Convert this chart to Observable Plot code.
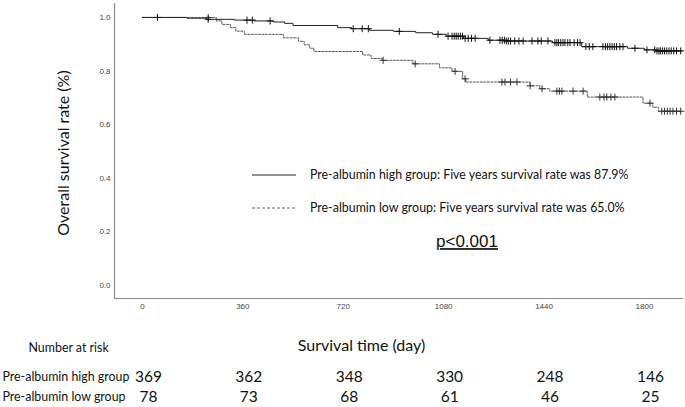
<!DOCTYPE html>
<html>
<head>
<meta charset="utf-8">
<script src="https://cdn.jsdelivr.net/npm/d3@7"></script>
<script src="https://cdn.jsdelivr.net/npm/@observablehq/plot@0.6"></script>
<style>
  html, body { margin: 0; padding: 0; background: white; }
  #wrap { position: relative; width: 685px; height: 407px; background: white; overflow: hidden; }
  #wrap > svg { display: block; }
  #overlay { position: absolute; left: 0; top: 0; }
</style>
</head>
<body>
<div id="wrap"></div>
<script>
// Kaplan–Meier step data (time in days, survival proportion)
const highTimes = [0, 160, 230, 330, 400, 470, 510, 540, 700, 750, 815, 900, 980, 1040, 1090, 1150, 1240, 1300, 1470, 1575, 1740, 1800, 1840, 1934];
const highSurv  = [1.000, 0.997, 0.993, 0.990, 0.987, 0.983, 0.978, 0.970, 0.962, 0.958, 0.952, 0.948, 0.943, 0.937, 0.930, 0.922, 0.915, 0.912, 0.906, 0.891, 0.885, 0.879, 0.875, 0.875];

const lowTimes = [0, 265, 285, 315, 335, 365, 505, 560, 580, 600, 615, 790, 820, 860, 970, 1065, 1110, 1148, 1160, 1390, 1425, 1460, 1595, 1795, 1830, 1850, 1934];
const lowSurv  = [1.000, 0.987, 0.974, 0.962, 0.949, 0.937, 0.924, 0.911, 0.898, 0.885, 0.873, 0.860, 0.847, 0.840, 0.827, 0.812, 0.799, 0.771, 0.759, 0.745, 0.734, 0.725, 0.703, 0.680, 0.665, 0.650, 0.650];

// Censoring times ("+" marks)
const highCensor = [54, 236, 375, 394, 458, 756, 788, 810, 921, 1060, 1096, 1110, 1118, 1125, 1132, 1140, 1148, 1157, 1168, 1180, 1193, 1246, 1282, 1290, 1298, 1305, 1312, 1320, 1335, 1350, 1365, 1397, 1418, 1430, 1454, 1479, 1486, 1492, 1500, 1508, 1515, 1525, 1533, 1548, 1560, 1569, 1590, 1602, 1615, 1651, 1660, 1668, 1676, 1684, 1692, 1700, 1712, 1723, 1766, 1809, 1837, 1845, 1852, 1858, 1865, 1872, 1880, 1888, 1896, 1905, 1915, 1930];
const lowCensor = [236, 863, 978, 1121, 1157, 1289, 1300, 1320, 1343, 1390, 1433, 1486, 1495, 1504, 1544, 1580, 1640, 1655, 1665, 1680, 1694, 1820, 1862, 1872, 1882, 1892, 1902, 1915, 1930];

// Number at risk
const riskTimes = [0, 360, 720, 1080, 1440, 1800];
const groups = ["Pre-albumin high group", "Pre-albumin low group"];
const highRisk = [369, 362, 348, 330, 248, 146];
const lowRisk = [78, 73, 68, 61, 46, 25];

const xTicks = [0, 360, 720, 1080, 1440, 1800];
const yTicks = [0, 0.2, 0.4, 0.6, 0.8, 1.0];

// tables
const toCurve = (ts, ss) => ts.map((t, i) => ({t, s: ss[i]}));
const highCurve = toCurve(highTimes, highSurv);
const lowCurve = toCurve(lowTimes, lowSurv);
function survAt(curve, t) {
  let s = curve[0].s;
  for (const d of curve) { if (d.t <= t) s = d.s; else break; }
  return s;
}
const highCens = highCensor.map(t => ({t, s: survAt(highCurve, t)}));
const lowCens = lowCensor.map(t => ({t, s: survAt(lowCurve, t)}));
const riskRows = [
  ...riskTimes.map((t, i) => ({t, group: groups[0], n: highRisk[i]})),
  ...riskTimes.map((t, i) => ({t, group: groups[1], n: lowRisk[i]}))
];

const xDomain = [-100, 1940];
const yDomain = [-0.0485, 1.052];
const sans = "Lato, 'Noto Sans', sans-serif";
const arial = "'Liberation Sans', Arial, sans-serif";

const main = Plot.plot({
  width: 685, height: 320,
  marginTop: 3, marginBottom: 22, marginLeft: 114, marginRight: 2,
  x: {domain: xDomain},
  y: {domain: yDomain},
  style: {fontFamily: arial, background: "white", overflow: "visible"},
  marks: [
    Plot.ruleX([xDomain[0]], {stroke: "#8a8a8a", strokeWidth: 1.2}),
    Plot.ruleY([yDomain[0]], {stroke: "#8a8a8a", strokeWidth: 1.2}),
    Plot.axisX({ticks: xTicks, tickFormat: d3.format("d"), tickSize: 0, tickPadding: 5, fontSize: 8, fontFamily: arial, fill: "#444", label: null}),
    Plot.axisY({ticks: yTicks, tickFormat: d3.format(".1f"), tickSize: 0, tickPadding: 4, fontSize: 8, fontFamily: arial, fill: "#444", label: null}),
    Plot.line(lowCurve, {x: "t", y: "s", curve: "step-after", stroke: "#555", strokeWidth: 1, strokeDasharray: "2,1.5"}),
    Plot.line(highCurve, {x: "t", y: "s", curve: "step-after", stroke: "#222", strokeWidth: 1}),
    Plot.dot(lowCens, {x: "t", y: "s", symbol: "plus", r: 2.4, stroke: "#333", strokeWidth: 1}),
    Plot.dot(highCens, {x: "t", y: "s", symbol: "plus", r: 2.4, stroke: "#111", strokeWidth: 1}),
    Plot.text(["Overall survival rate (%)"], {frameAnchor: "left", rotate: -90, textAnchor: "middle", lineAnchor: "middle", dx: -51, dy: 2, fontSize: 16, fontFamily: sans, fill: "#111"})
  ]
});

const risk = Plot.plot({
  width: 685, height: 87,
  marginTop: 46, marginBottom: 0, marginLeft: 114, marginRight: 2,
  x: {domain: xDomain, axis: null},
  y: {type: "point", domain: groups, axis: null, padding: 0.5},
  style: {fontFamily: sans, background: "white", overflow: "visible"},
  marks: [
    Plot.text(riskRows, {x: "t", y: "group", text: "n", dx: 6, fontSize: 15.5, fill: "#111"}),
    Plot.text(groups, {y: d => d, text: d => d, frameAnchor: "left", textAnchor: "start", dx: -112, fontSize: 12.4, fill: "#111"}),
    Plot.text(["Survival time (day)"], {frameAnchor: "top", lineAnchor: "middle", dx: -37.5, dy: -21, fontSize: 16, fill: "#111"}),
    Plot.text(["Number at risk"], {frameAnchor: "top-left", textAnchor: "start", lineAnchor: "middle", dx: -86, dy: -18, fontSize: 12.4, fill: "#111"})
  ]
});

const wrap = document.getElementById("wrap");
wrap.appendChild(main);
wrap.appendChild(risk);

// Legend and p-value overlay
const ov = d3.select(wrap).append("svg").attr("id", "overlay").attr("width", 685).attr("height", 407);
const legend = [
  {label: "Pre-albumin high group: Five years survival rate was 87.9%", y: 175, stroke: "#222", dash: null},
  {label: "Pre-albumin low group: Five years survival rate was 65.0%", y: 208, stroke: "#666", dash: "3,2"}
];
for (const L of legend) {
  ov.append("line").attr("x1", 252).attr("x2", 296).attr("y1", L.y).attr("y2", L.y)
    .attr("stroke", L.stroke).attr("stroke-width", 1).attr("stroke-dasharray", L.dash);
  ov.append("text").attr("x", 310).attr("y", L.y).attr("dy", "0.35em")
    .attr("font-family", sans).attr("font-size", 12.4).attr("fill", "#111").text(L.label);
}
ov.append("text").attr("x", 436).attr("y", 241).attr("dy", "0.36em")
  .attr("font-family", arial).attr("font-size", 17)
  .attr("fill", "#111").style("text-decoration", "underline").text("p<0.001");
</script>
</body>
</html>
